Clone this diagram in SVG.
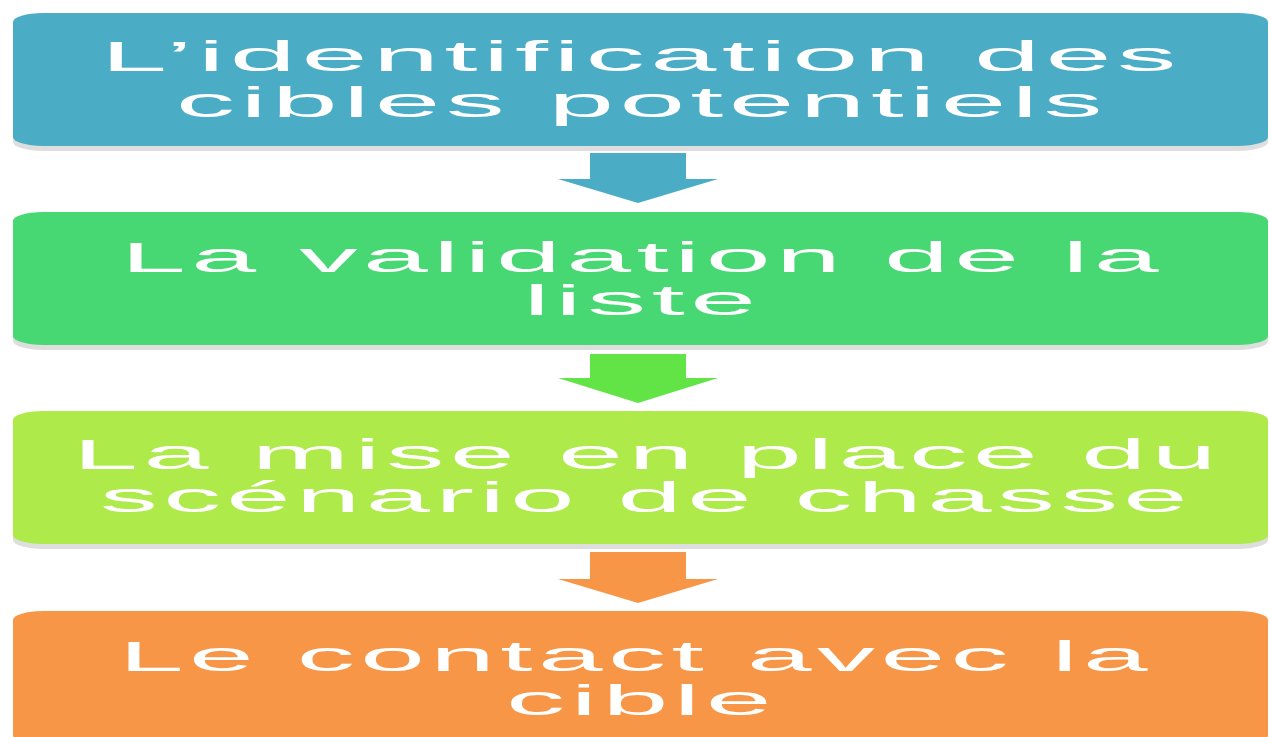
<svg xmlns="http://www.w3.org/2000/svg" width="1271" height="737" viewBox="0 0 1271 737">
  <style>
    .shadow { fill: #dedede; }
    .label { font-family: "Liberation Sans", Arial, sans-serif; font-size: 43px; letter-spacing: 2px; fill: #ffffff; }
    .blue { fill: #4bacc6; }
    .green { fill: #48d873; }
    .green-arrow { fill: #62e346; }
    .lime { fill: #aeea4a; }
    .orange { fill: #f79646; }
  </style>
  <rect width="1271" height="737" fill="#ffffff"/>

  <!-- step 1 -->
  <g id="step-identification">
    <rect class="shadow" x="13" y="18" width="1255" height="133" rx="30" ry="9"/>
    <rect class="blue" x="13" y="13" width="1255" height="133" rx="30" ry="9"/>
    <text class="label" x="101" y="71" textLength="1081" lengthAdjust="spacingAndGlyphs">L’identification des</text>
    <text class="label" x="176" y="117" textLength="932" lengthAdjust="spacingAndGlyphs">cibles potentiels</text>
  </g>

  <!-- step 2 -->
  <g id="step-validation">
    <rect class="shadow" x="13" y="217" width="1255" height="133" rx="30" ry="9"/>
    <rect class="green" x="13" y="212" width="1255" height="133" rx="30" ry="9"/>
    <text class="label" x="121" y="272" textLength="1043" lengthAdjust="spacingAndGlyphs">La validation de la</text>
    <text class="label" x="523.5" y="315" textLength="238" lengthAdjust="spacingAndGlyphs">liste</text>
  </g>

  <!-- step 3 -->
  <g id="step-scenario">
    <rect class="shadow" x="13" y="416" width="1255" height="133" rx="30" ry="9"/>
    <rect class="lime" x="13" y="411" width="1255" height="133" rx="30" ry="9"/>
    <text class="label" x="73" y="469" textLength="1149" lengthAdjust="spacingAndGlyphs">La mise en place du</text>
    <text class="label" x="100" y="512" textLength="1093" lengthAdjust="spacingAndGlyphs">scénario de chasse</text>
  </g>

  <!-- step 4 -->
  <g id="step-contact">
    <rect class="shadow" x="13" y="616" width="1255" height="133" rx="30" ry="9"/>
    <rect class="orange" x="13" y="611" width="1255" height="133" rx="30" ry="9"/>
    <text class="label" x="119" y="671" textLength="1034" lengthAdjust="spacingAndGlyphs">Le contact avec la</text>
    <text class="label" x="506" y="715" textLength="271" lengthAdjust="spacingAndGlyphs">cible</text>
  </g>

  <!-- downward arrows between steps -->
  <g id="connectors">
    <polygon class="blue" points="590,153 686,153 686,179 718,179 638,203 558,179 590,179"/>
    <polygon class="green-arrow" points="590,354 686,354 686,378 718,378 638,403 558,378 590,378"/>
    <polygon class="orange" points="590,552 686,552 686,579 718,579 638,603 558,579 590,579"/>
  </g>
</svg>
